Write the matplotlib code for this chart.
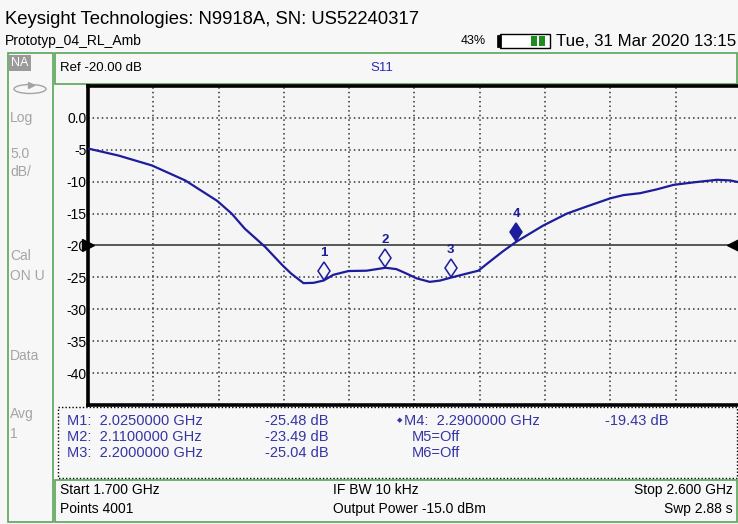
import matplotlib
matplotlib.use("Agg")
import matplotlib.pyplot as plt
import matplotlib.patches as patches
import matplotlib.transforms as mtransforms

# Datos (S11, dB)
freq_ghz = [1.700, 1.742, 1.788, 1.834, 1.878, 1.898, 1.916, 1.944, 1.968, 1.980,
            1.997, 2.011, 2.025, 2.038, 2.059, 2.084, 2.110, 2.125, 2.139, 2.153,
            2.171, 2.185, 2.200, 2.222, 2.238, 2.254, 2.272, 2.290, 2.327, 2.360,
            2.387, 2.420, 2.438, 2.461, 2.484, 2.507, 2.535, 2.567, 2.585, 2.600]
s11_db = [-4.8, -5.9, -7.45, -9.8, -13.0, -15.0, -17.35, -20.2, -23.1, -24.4,
          -25.9, -25.85, -25.48, -24.6, -24.0, -23.95, -23.49, -23.7, -24.4, -25.15,
          -25.7, -25.5, -25.04, -24.4, -23.95, -22.5, -20.9, -19.43, -16.9, -15.0,
          -13.9, -12.6, -12.1, -11.8, -11.2, -10.5, -10.1, -9.7, -9.8, -10.15]

marker_freq = [2.025, 2.110, 2.200, 2.290]
marker_db = [-25.48, -23.49, -25.04, -19.43]

ref_db = -20.0
db_per_div = 5.0
start_ghz, stop_ghz = 1.700, 2.600
ytick_vals = [0, -5, -10, -15, -20, -25, -30, -35, -40]
ytick_labels = ["0.0", "-5", "-10", "-15", "-20", "-25", "-30", "-35", "-40"]

W, H = 738, 524
BG = "#f7f7f7"
GREEN = "#5aa55a"
BLUE = "#3535a5"
TRACE = "#1c1c9c"
GRAY = "#a4a4a4"

plt.rcParams["font.family"] = ["Liberation Sans", "DejaVu Sans"]

fig = plt.figure(figsize=(W / 100, H / 100), dpi=100, facecolor=BG)

# capa de fondo en pixeles para cajas y textos
bg = fig.add_axes([0, 0, 1, 1], zorder=0)
bg.set_xlim(0, W)
bg.set_ylim(H, 0)
bg.axis("off")


def caja(x0, y0, x1, y1, **kw):
    bg.add_patch(patches.Rectangle((x0, y0), x1 - x0, y1 - y0, **kw))


def texto(x, y, s, **kw):
    kw.setdefault("va", "center")
    bg.text(x, y, s, **kw)


# cabecera
texto(5, 19, "Keysight Technologies: N9918A, SN: US52240317", fontsize=13.3)
texto(5, 41, "Prototyp_04_RL_Amb", fontsize=10)
texto(461, 41, "43%", fontsize=9)
caja(500, 34, 550, 48, facecolor="white", edgecolor="black", lw=1)
caja(497, 35, 501, 47, facecolor="black", edgecolor="black", lw=0.5)
caja(531, 36, 537, 46, facecolor="#1e8c1e", edgecolor="none")
caja(539, 36, 545, 46, facecolor="#1e8c1e", edgecolor="none")
texto(736, 41, "Tue, 31 Mar 2020 13:15", fontsize=12.2, ha="right")

# panel izquierdo
caja(8, 53, 53, 522, facecolor="none", edgecolor=GREEN, lw=1.2)
caja(9, 55, 31, 71, facecolor="#9a9a9a", edgecolor="none")
texto(20, 63, "NA", fontsize=9, color="white", ha="center")
bg.add_patch(patches.Ellipse((30, 89), 32, 9, facecolor="none", edgecolor=GRAY, lw=1))
bg.plot([31], [84.5], marker=">", ms=4, color=GRAY)
for yy, s in [(118, "Log"), (154, "5.0"), (172, "dB/"), (256, "Cal"), (276, "ON U"),
              (356, "Data"), (414, "Avg"), (434, "1")]:
    texto(10, yy, s, fontsize=10, color=GRAY)

# caja superior
caja(55, 53, 737, 84, facecolor="none", edgecolor=GREEN, lw=1.2)
texto(60, 68, f"Ref {ref_db:.2f} dB", fontsize=9.5)
texto(370, 68, "S11", fontsize=9.5, color="#2a2ab8")

# tabla de marcadores
caja(58, 407, 737, 478, facecolor="none", edgecolor="black", lw=1, ls=(0, (1, 1.5)))
rows_y = [421, 437, 453]
for i in range(3):
    texto(67, rows_y[i], f"M{i + 1}:  {marker_freq[i]:.7f} GHz", fontsize=10.5, color=BLUE)
    texto(265, rows_y[i], f"{marker_db[i]:.2f} dB", fontsize=10.5, color=BLUE)
texto(400, rows_y[0], "\u25c6", fontsize=5, color=BLUE, ha="center")
texto(404, rows_y[0], f"M4:  {marker_freq[3]:.7f} GHz", fontsize=10.5, color=BLUE)
texto(605, rows_y[0], f"{marker_db[3]:.2f} dB", fontsize=10.5, color=BLUE)
texto(412, rows_y[1], "M5=Off", fontsize=10.5, color=BLUE)
texto(412, rows_y[2], "M6=Off", fontsize=10.5, color=BLUE)

# caja inferior
caja(55, 480, 737, 522, facecolor="none", edgecolor=GREEN, lw=1.2)
texto(60, 490, f"Start {start_ghz:.3f} GHz", fontsize=10)
texto(60, 509, "Points 4001", fontsize=10)
texto(333, 490, "IF BW 10 kHz", fontsize=10)
texto(333, 509, "Output Power -15.0 dBm", fontsize=10)
texto(733, 490, f"Stop {stop_ghz:.3f} GHz", fontsize=10, ha="right")
texto(733, 509, "Swp 2.88 s", fontsize=10, ha="right")

# area de la traza
x0, x1, y0, y1 = 88, 741, 86, 405
ax = fig.add_axes([x0 / W, 1 - y1 / H, (x1 - x0) / W, (y1 - y0) / H], zorder=2)
ax.set_facecolor("#f5f5f5")
ax.set_xlim(start_ghz, stop_ghz)
ax.set_ylim(ref_db - 5 * db_per_div, ref_db + 5 * db_per_div)

step = (stop_ghz - start_ghz) / 10
for k in range(1, 10):
    ax.axvline(start_ghz + k * step, color="#333333", lw=1.1, ls=(0, (1, 2)), zorder=1)
for v in ytick_vals:
    if v != ref_db:
        ax.axhline(v, color="#333333", lw=1.1, ls=(0, (1, 2)), zorder=1)
ax.axhline(ref_db, color="#4a4a4a", lw=1.3, zorder=2)
ax.plot([0.0], [ref_db], marker=">", ms=9, color="black", clip_on=False,
        transform=ax.get_yaxis_transform(), zorder=4)
ax.plot([(733 - x0) / (x1 - x0)], [ref_db], marker="<", ms=9, color="black",
        clip_on=False, transform=ax.get_yaxis_transform(), zorder=4)

ax.plot(freq_ghz, s11_db, color=TRACE, lw=1.6, zorder=3)

# marcadores
up = mtransforms.offset_copy(ax.transData, fig=fig, y=6.8, units="points")
for i, (f, v) in enumerate(zip(marker_freq, marker_db)):
    filled = i == 3
    ax.plot([f], [v], marker="d", ms=9.5, mew=1.1, mec=TRACE,
            mfc=TRACE if filled else "#f5f5f5", transform=up, zorder=5)
    ax.annotate(str(i + 1), (f, v), xytext=(0, 20), textcoords="offset points",
                ha="center", va="center", fontsize=9.5, fontweight="bold", color=TRACE)

ax.set_xticks([])
ax.set_yticks(ytick_vals)
ax.set_yticklabels(ytick_labels)
ax.tick_params(axis="y", length=0, pad=1, labelsize=10)
for side in ["left", "top", "bottom"]:
    ax.spines[side].set_linewidth(2.6)
    ax.spines[side].set_color("black")
ax.spines["right"].set_visible(False)

fig.savefig("out.png", dpi=100, facecolor=BG)
